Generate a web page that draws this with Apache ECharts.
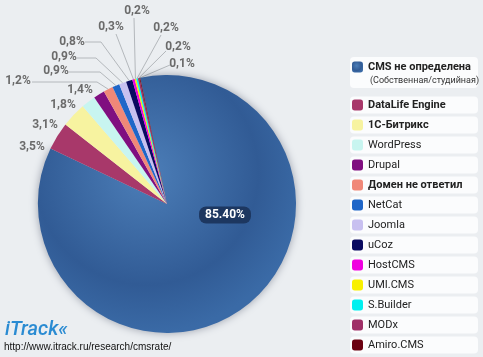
<!DOCTYPE html>
<html>
<head>
<meta charset="utf-8">
<script src="https://cdn.jsdelivr.net/npm/echarts@6/dist/echarts.min.js"></script>
<style>html,body{margin:0;padding:0;background:#ebeef1;}#c{width:483px;height:357px;}</style>
</head>
<body>
<div id="c"></div>
<script>
const categories = ['CMS не определена','DataLife Engine','1C-Битрикс','WordPress','Drupal','Домен не ответил','NetCat','Joomla','uCoz','HostCMS','UMI.CMS','S.Builder','MODx','Amiro.CMS'];
const values = [85.4,3.5,3.1,1.8,1.4,1.2,0.9,0.9,0.8,0.3,0.2,0.2,0.2,0.1];
const boldNames = ['CMS не определена','DataLife Engine','1C-Битрикс','Домен не ответил'];
const subtitle = '(Собственная/студийная)';
const logoText = 'iTrack«';
const sourceUrl = 'http://www.itrack.ru/research/cmsrate/';

const colors = ['#3462a0','#a8386a','#f7f3a0','#c8f5f0','#800f80','#f08878','#1f66c8','#c8c0f0','#0a0a60','#f000e0','#f8f000','#00f0f0','#a03068','#6a0010'];
// label anchor layout (text placement only)
const labelPos = [[225,215],[32,147],[45,125],[63,105],[80,90],[18,81],[56,71],[64,57],[72,42],[111,27],[137,11],[166,28],[178,47],[182,64]];
const lineGuide = [null,null,null,null,null,[[97,82],[32,82]],[[100,72],[69,72]],[[96,58],[77,58]],[[101,42],[85,42]],[[116,34],[116,34]],[[134,18],[134,18]],[[161,35],[161,35]],[[166,51],[166,51]],[[170,65],[170,65]]];

const fmt = (v, i) => i === 0 ? v.toFixed(2) + '%' : String(v).replace('.', ',') + '%';

const data = categories.map((name, i) => {
  const item = { name, value: values[i], itemStyle: { color: colors[i] } };
  if (i === 0) {
    item.itemStyle = {
      color: { type: 'radial', x: 0.42, y: 0.38, r: 0.62, colorStops: [
        { offset: 0, color: '#4c7eb8' }, { offset: 0.7, color: '#315b95' }, { offset: 1, color: '#3a6aa6' }] },
      shadowBlur: 8, shadowColor: 'rgba(0,10,40,0.35)'
    };
    item.label = { position: 'inside', color: '#fff', fontWeight: 'bold', fontSize: 12,
      fontFamily: 'Roboto, sans-serif',
      backgroundColor: '#1d3760', borderRadius: 7, padding: [3, 6, 2, 6] };
    item.labelLine = { show: false };
  } else if (!lineGuide[i]) {
    item.labelLine = { show: false };
  }
  return item;
});

const legendText = {
  color: '#222', fontSize: 11, lineHeight: 14, fontFamily: 'Roboto, sans-serif',
  rich: { b: { fontWeight: 'bold', fontSize: 11, lineHeight: 14, fontFamily: 'Roboto, sans-serif', color: '#222' } }
};
const legendFmt = name => boldNames.includes(name) ? '{b|' + name + '}' : name;

const bgRects = [{ type: 'rect', z: 0, shape: { x: 350, y: 57, width: 128, height: 31, r: 4 }, style: { fill: '#fbfcfd' } }];
for (let i = 1; i < categories.length; i++) {
  bgRects.push({ type: 'rect', z: 0, shape: { x: 350, y: 105 - 8.5 + (i - 1) * 20, width: 128, height: 17, r: 4 }, style: { fill: '#fbfcfd' } });
}

const chart = echarts.init(document.getElementById('c'), null, { renderer: 'canvas' });
chart.setOption({
  backgroundColor: '#ebeef1',
  animation: false,
  legend: [
    { orient: 'vertical', left: 352, top: 60, padding: 0, itemWidth: 11, itemHeight: 11, icon: 'roundRect', selectedMode: false,
      data: [categories[0]], formatter: legendFmt, textStyle: legendText },
    { orient: 'vertical', left: 352, top: 98, padding: 0, height: 259, itemWidth: 11, itemHeight: 11, itemGap: 6, icon: 'roundRect', selectedMode: false,
      data: categories.slice(1), formatter: legendFmt, textStyle: legendText }
  ],
  graphic: bgRects.concat([
    { type: 'text', z: 5, left: 370, top: 76, style: { text: subtitle, fontSize: 9, fontFamily: 'Roboto, sans-serif', fill: '#333' } },
    { type: 'text', z: 5, left: 5, top: 320, style: { text: logoText, fontSize: 20, fontStyle: 'italic', fontWeight: 500, fontFamily: 'Roboto, sans-serif', fill: '#2a8bd2' } },
    { type: 'text', z: 5, left: 4, top: 342, style: { text: sourceUrl, fontSize: 10, fontFamily: 'Liberation Sans, sans-serif', fill: '#111' } }
  ]),
  series: [{
    type: 'pie',
    center: [167, 204],
    radius: 129,
    startAngle: 102,
    clockwise: true,
    avoidLabelOverlap: false,
    data,
    label: {
      show: true, position: 'outside',
      formatter: p => fmt(p.value, p.dataIndex),
      color: '#6b6b6b', fontWeight: 'bold', fontSize: 12,
      fontFamily: 'Roboto, sans-serif'
    },
    labelLine: { show: true, length: 10, length2: 10, lineStyle: { color: '#b4b8bc', width: 1 } },
    labelLayout: function (params) {
      const i = params.dataIndex;
      const res = { x: labelPos[i][0], y: labelPos[i][1], align: 'center', verticalAlign: 'middle' };
      const g = lineGuide[i];
      if (g && params.labelLinePoints) {
        const p0 = params.labelLinePoints[0];
        res.labelLinePoints = [[p0[0], p0[1]], g[0], g[1]];
      }
      return res;
    },
    emphasis: { disabled: true }
  }]
});
</script>
</body>
</html>
